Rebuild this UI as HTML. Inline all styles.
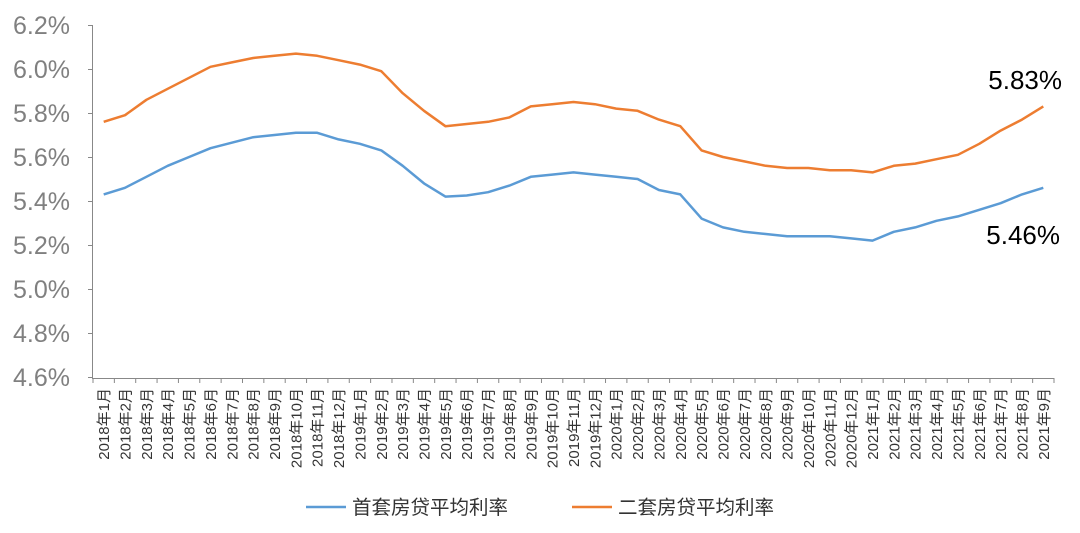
<!DOCTYPE html>
<html><head><meta charset="utf-8"><style>
body{margin:0;background:#fff;}
svg{display:block;font-family:"Liberation Sans","Noto Sans CJK SC",sans-serif;}
</style></head><body>
<svg id="s" width="1080" height="533" xmlns="http://www.w3.org/2000/svg"></svg>
<script>
const s=document.getElementById('s');
const b=[5.43,5.46,5.51,5.56,5.60,5.64,5.665,5.69,5.70,5.71,5.71,5.68,5.66,5.63,5.56,5.48,5.42,5.425,5.44,5.47,5.51,5.52,5.53,5.52,5.51,5.50,5.45,5.43,5.32,5.28,5.26,5.25,5.24,5.24,5.24,5.23,5.22,5.26,5.28,5.31,5.33,5.36,5.39,5.43,5.46];
const o=[5.76,5.79,5.86,5.91,5.96,6.01,6.03,6.05,6.06,6.07,6.06,6.04,6.02,5.99,5.89,5.81,5.74,5.75,5.76,5.78,5.83,5.84,5.85,5.84,5.82,5.81,5.77,5.74,5.63,5.60,5.58,5.56,5.55,5.55,5.54,5.54,5.53,5.56,5.57,5.59,5.61,5.66,5.72,5.77,5.83];
const X0=93,W=(1054-93)/45;
const y=v=>25+(6.2-v)/0.2*44;
const x=i=>X0+W*(i+0.5);
let h='';
h+=`<line x1="92.5" y1="25" x2="92.5" y2="378" stroke="#888" stroke-width="1"/>`;
for(let k=0;k<=8;k++){const yy=25+k*44;const v=(6.2-k*0.2).toFixed(1);
h+=`<line x1="88" y1="${yy+0.5}" x2="92.5" y2="${yy+0.5}" stroke="#888"/>`;
h+=`<text x="70" y="${yy+9}" font-size="25" fill="#808080" text-anchor="end">${v}%</text>`;}
h+=`<line x1="92" y1="378.5" x2="1054" y2="378.5" stroke="#888"/>`;
for(let i=0;i<=45;i++){const xx=X0+W*i;h+=`<line x1="${xx}" y1="378" x2="${xx}" y2="383" stroke="#888"/>`;}
let i=0;
for(let yr=2018;yr<=2021;yr++)for(let m=1;m<=12;m++){if(i>=45)break;
h+=`<text transform="translate(${x(i)+5.5},388) rotate(-90)" font-size="15" fill="#333" text-anchor="end">${yr}年${m}月</text>`;i++;}
const p=a=>a.map((v,i)=>`${x(i).toFixed(1)},${y(v).toFixed(1)}`).join(' ');
h+=`<polyline points="${p(b)}" fill="none" stroke="#5b9bd5" stroke-width="2.5" stroke-linejoin="round"/>`;
h+=`<polyline points="${p(o)}" fill="none" stroke="#ed7d31" stroke-width="2.5" stroke-linejoin="round"/>`;
h+=`<text x="1062" y="89" font-size="26" fill="#000" text-anchor="end">5.83%</text>`;
h+=`<text x="1060" y="244" font-size="26" fill="#000" text-anchor="end">5.46%</text>`;
h+=`<line x1="306" y1="507" x2="346" y2="507" stroke="#5b9bd5" stroke-width="2.5"/>`;
h+=`<text x="352" y="514" font-size="19.5" fill="#333">首套房贷平均利率</text>`;
h+=`<line x1="572" y1="507" x2="612" y2="507" stroke="#ed7d31" stroke-width="2.5"/>`;
h+=`<text x="618" y="514" font-size="19.5" fill="#333">二套房贷平均利率</text>`;
s.innerHTML=h;
</script>
</body></html>
